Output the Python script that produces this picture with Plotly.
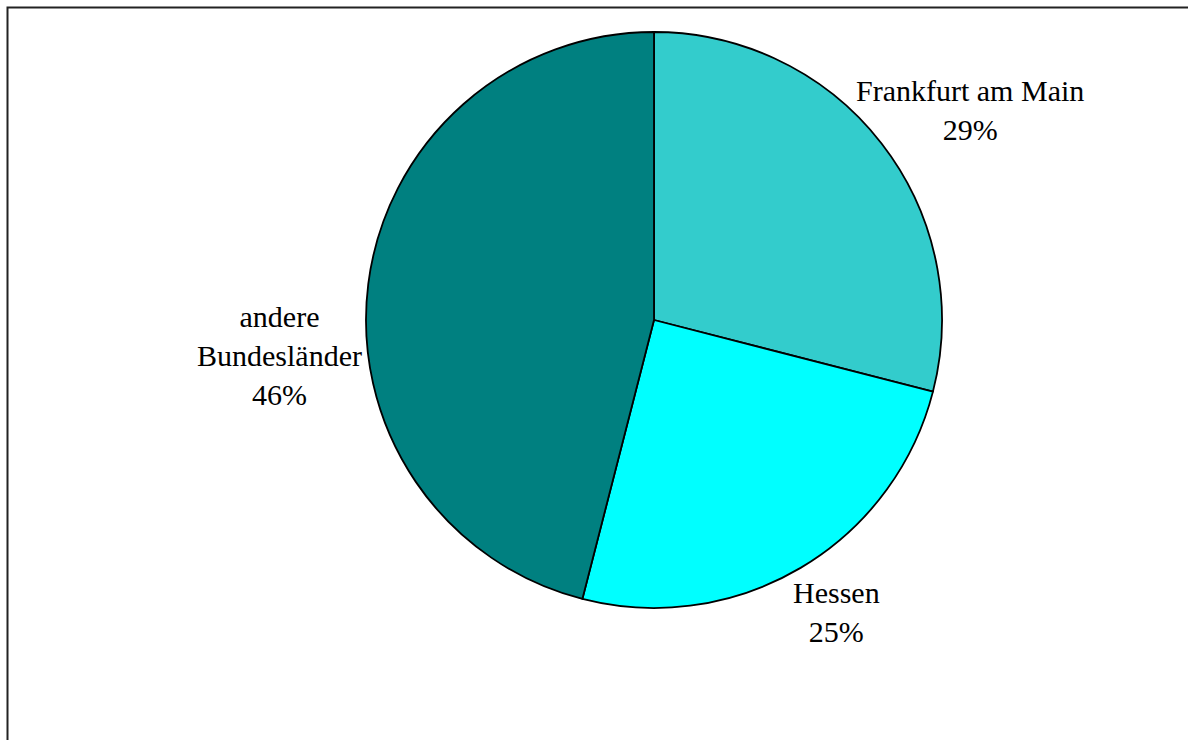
import plotly.graph_objects as go

# Share of origin
regions = ["Frankfurt am Main", "Hessen", "andere<br>Bundesländer"]
shares = [29, 25, 46]
colors = ["#33CCCC", "#00FFFF", "#008080"]

W, H = 1188, 740
cx, cy, r = 654, 320, 288

# label centres in pixels (x from left, y from top)
label_px = [(970, 110), (836, 612), (279, 355)]

fig = go.Figure(go.Pie(
    labels=regions,
    values=shares,
    sort=False,
    direction="clockwise",
    rotation=0,
    marker=dict(colors=colors, line=dict(color="black", width=1.8)),
    textinfo="none",
    hoverinfo="label+percent",
    showlegend=False,
    domain=dict(x=[(cx - r) / W, (cx + r) / W], y=[(H - cy - r) / H, (H - cy + r) / H]),
))

total = sum(shares)
for name, v, (px, py) in zip(regions, shares, label_px):
    fig.add_annotation(
        x=px / W, y=1 - py / H, xref="paper", yref="paper",
        xanchor="center", yanchor="middle",
        text=f"{name}<br>{round(100 * v / total)}%",
        showarrow=False, align="center",
        font=dict(family="Liberation Serif, Times New Roman, serif", size=30, color="black"),
    )

# chart frame
fig.add_shape(type="rect", xref="paper", yref="paper",
              x0=7.5 / W, x1=1.05, y0=-0.05, y1=(H - 7.5) / H,
              line=dict(color="#222222", width=2))

fig.update_layout(
    width=W, height=H,
    margin=dict(l=0, r=0, t=0, b=0),
    paper_bgcolor="white", plot_bgcolor="white",
)

fig.write_html("out.html")
